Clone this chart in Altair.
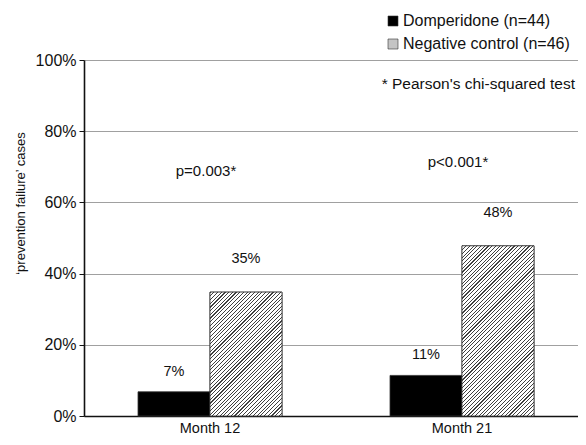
import altair as alt
import pandas as pd

months = ["Month 12", "Month 21"]
groups = ["Domperidone (n=44)", "Negative control (n=46)"]
domperidone = [0.068, 0.114]
control = [0.348, 0.478]
p_text = ["p=0.003*", "p<0.001*"]
p_y = [0.688, 0.713]
footnote = "* Pearson's chi-squared test"

FONT = "Liberation Sans, Arial, sans-serif"
W, H = 494, 356
RANGE_W = 504
P_IN = 0.4286
P_OUT = P_IN / 2
STEP = RANGE_W / 2
BAR_W = STEP * (1 - P_IN) / 2

rows = []
for i, m in enumerate(months):
    rows.append({"Month": m, "Group": groups[0], "Value": domperidone[i]})
    rows.append({"Month": m, "Group": groups[1], "Value": control[i]})
df = pd.DataFrame(rows)
pdf = pd.DataFrame({"Month": months, "label": p_text, "y": p_y})

xscale = alt.Scale(domain=months, paddingInner=P_IN, paddingOuter=P_OUT, range=[0, RANGE_W])
xenc = alt.X("Month:N", sort=months, title=None, scale=xscale,
             axis=alt.Axis(labelAngle=0, ticks=False, labelPadding=5, labelFontSize=14.5,
                           labelColor="#111", domainColor="#111", domainWidth=1.6))
xoff = alt.XOffset("Group:N", sort=groups, scale=alt.Scale(paddingInner=0, paddingOuter=0))
yscale = alt.Scale(domain=[0, 1])
yenc = alt.Y("Value:Q", scale=yscale,
             title="\u2018prevention failure\u2019 cases",
             axis=alt.Axis(format=".0%", values=[0, 0.2, 0.4, 0.6, 0.8, 1.0],
                           tickSize=5, tickColor="#111", domainColor="#111", domainWidth=1.6,
                           labelFontSize=16, labelColor="#111", labelPadding=3,
                           gridColor="#a0a0a0", gridWidth=1,
                           titleFontSize=13, titleFontWeight="normal", titleColor="#111",
                           titleX=-64, titleY=143, titleBaseline="middle", titleAngle=270))

base = alt.Chart(df).mark_bar(stroke="#333", strokeWidth=0.8).encode(
    x=xenc, xOffset=xoff, y=yenc,
    color=alt.Color("Group:N", sort=groups,
                    scale=alt.Scale(domain=groups, range=["#000000", "#c4c4c4"]),
                    legend=alt.Legend(title=None, orient="none", legendX=301, legendY=-47,
                                      symbolType="square", symbolSize=100,
                                      symbolStrokeColor="#333", symbolStrokeWidth=0.6,
                                      labelFontSize=16, labelColor="#111", labelFont=FONT,
                                      labelLimit=0, labelOffset=2, rowPadding=7, padding=0)),
)


def hatch(w, h, period=3.7, dark=0.3):
    r = w / h
    s = (r + 1) / (r * r + 1)
    n = max(1, int(round((w + h) / period)))
    stops = []
    for k in range(n):
        a = k / n
        b = (k + dark) / n
        c = (k + 1) / n
        stops += [{"offset": a, "color": "#404040"}, {"offset": b, "color": "#404040"},
                  {"offset": b, "color": "#ffffff"}, {"offset": c, "color": "#ffffff"}]
    return {"gradient": "linear", "x1": 0, "y1": 0, "x2": r * s, "y2": s, "stops": stops}


layers = [base]
for i, m in enumerate(months):
    g = hatch(BAR_W, control[i] * H)
    layers.append(
        alt.Chart(df).transform_filter(
            (alt.datum.Month == m) & (alt.datum.Group == groups[1])
        ).mark_bar(fill=g, stroke="#333", strokeWidth=0.8).encode(x=xenc, xOffset=xoff, y=yenc)
    )

lab_black = alt.Chart(df).transform_filter(alt.datum.Group == groups[0]).mark_text(
    dy=-20, fontSize=14.5, color="#111", font=FONT, baseline="middle"
).encode(x=xenc, xOffset=xoff, y=yenc, text=alt.Text("Value:Q", format=".0%"))
lab_ctrl = alt.Chart(df).transform_filter(alt.datum.Group == groups[1]).mark_text(
    dy=-33, fontSize=14.5, color="#111", font=FONT, baseline="middle"
).encode(x=xenc, xOffset=xoff, y=yenc, text=alt.Text("Value:Q", format=".0%"))

ptext = alt.Chart(pdf).mark_text(fontSize=15, color="#111", font=FONT, baseline="middle", dx=-4).encode(
    x=alt.X("Month:N", sort=months, scale=xscale, title=None),
    y=alt.Y("y:Q", scale=yscale),
    text="label:N",
)

foot = alt.Chart(pd.DataFrame({"t": [footnote]})).mark_text(
    fontSize=15.5, color="#111", font=FONT, align="right", baseline="middle"
).encode(x=alt.value(491), y=alt.value(24), text="t:N")

chart = alt.layer(*layers, lab_black, lab_ctrl, ptext, foot).properties(
    width=W, height=H,
    autosize=alt.AutoSizeParams(type="none"),
    padding={"left": 76, "top": 52, "right": 0, "bottom": 19},
).configure_view(stroke=None).configure(font=FONT).configure_axis(labelFont=FONT, titleFont=FONT)

chart.save("out.html", embed_options={"renderer": "svg", "actions": False})
